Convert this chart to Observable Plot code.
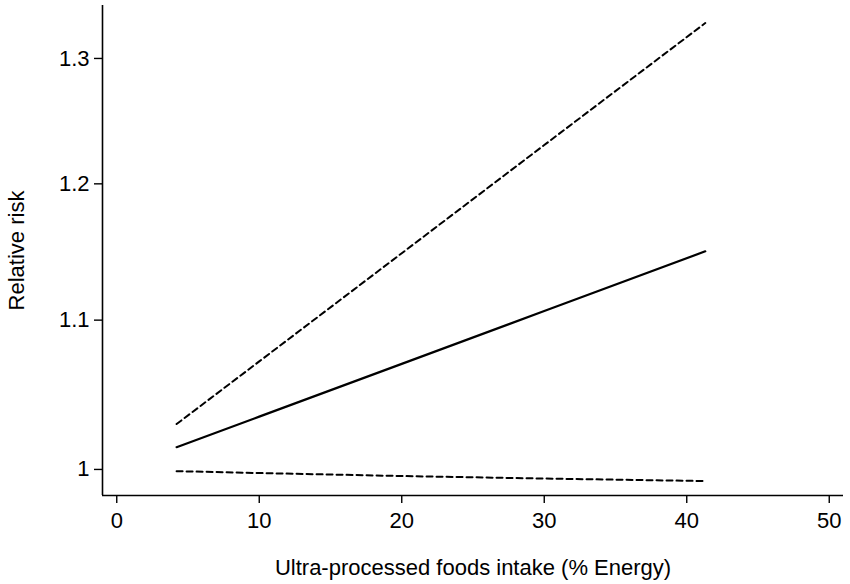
<!DOCTYPE html>
<html>
<head>
<meta charset="utf-8">
<script src="https://cdn.jsdelivr.net/npm/d3@7"></script>
<script src="https://cdn.jsdelivr.net/npm/@observablehq/plot@0.6"></script>
<style>
  html, body { margin: 0; padding: 0; background: #fff; }
  svg { display: block; }
</style>
</head>
<body>
<div id="chart"></div>
<script>
// Ultra-processed foods intake (% Energy)
const intake = [4.2, 10, 20, 30, 41.3];
// Relative risk estimate and 95% CI bounds
const rrEstimate = [1.0143, 1.0343, 1.0697, 1.1064, 1.1494];
const rrUpper    = [1.0294, 1.0714, 1.1480, 1.2301, 1.3297];
const rrLower    = [0.9989, 0.9977, 0.9958, 0.9942, 0.9926];

const xTicks = [0, 10, 20, 30, 40, 50];
const yTicks = [1, 1.1, 1.2, 1.3];
const xLabel = "Ultra-processed foods intake (% Energy)";
const yLabel = "Relative risk";

const est = intake.map((x, i) => ({x, y: rrEstimate[i]}));
const up  = intake.map((x, i) => ({x, y: rrUpper[i]}));
const lo  = intake.map((x, i) => ({x, y: rrLower[i]}));

const xDomain = [-1, 51];
const yDomain = [0.9835, 1.3447];
const fs = 22;

const chart = Plot.plot({
  width: 850,
  height: 584,
  marginLeft: 102,
  marginRight: 7,
  marginTop: 5,
  marginBottom: 89,
  style: {fontFamily: "'Liberation Sans', Arial, sans-serif", fontSize: fs + "px", color: "#000", background: "#fff"},
  x: {domain: xDomain},
  y: {type: "log", domain: yDomain},
  marks: [
    Plot.ruleX([xDomain[0]], {stroke: "#000", strokeWidth: 1.6}),
    Plot.ruleY([yDomain[0]], {stroke: "#000", strokeWidth: 1.6}),
    Plot.axisX(xTicks, {tickSize: 8, tickPadding: 9, strokeWidth: 1.4, fontSize: fs, label: null, tickFormat: d => String(d)}),
    Plot.axisY(yTicks, {tickSize: 8, tickPadding: 5, strokeWidth: 1.4, fontSize: fs, label: null, tickFormat: d => String(d)}),
    Plot.line(up, {x: "x", y: "y", stroke: "#000", strokeWidth: 2, strokeDasharray: "6 4"}),
    Plot.line(lo, {x: "x", y: "y", stroke: "#000", strokeWidth: 2, strokeDasharray: "6 4"}),
    Plot.line(est, {x: "x", y: "y", stroke: "#000", strokeWidth: 2.2}),
    Plot.text([xLabel], {frameAnchor: "bottom", dy: 72, fontSize: fs, textAnchor: "middle", lineAnchor: "middle", fill: "#000"}),
    Plot.text([yLabel], {frameAnchor: "left", dx: -86, rotate: -90, fontSize: fs, textAnchor: "middle", lineAnchor: "middle", fill: "#000"})
  ]
});
document.getElementById("chart").appendChild(chart);
</script>
</body>
</html>
